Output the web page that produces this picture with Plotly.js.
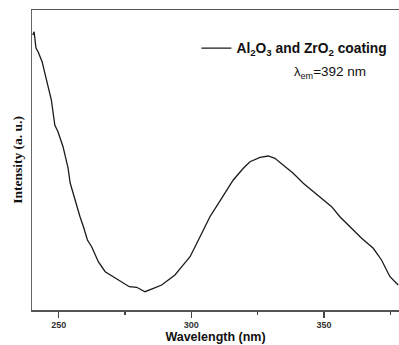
<!DOCTYPE html>
<html>
<head>
<meta charset="utf-8">
<script src="https://cdn.plot.ly/plotly-3.0.1.min.js"></script>
<style>html,body{margin:0;padding:0;background:#fff;}#chart{width:399px;height:345px;}</style>
</head>
<body>
<div id="chart"></div>
<script>
const wavelength = [240.2, 240.7, 241.4, 242.2, 243.7, 245.3, 247.2, 248.5, 249.7, 251.6, 253.5, 254.3, 256.1, 258.0, 259.3, 260.8, 262.4, 264.9, 267.5, 270.6, 273.7, 276.6, 279.4, 282.5, 285.7, 288.8, 291.3, 293.8, 296.4, 299.5, 301.4, 303.3, 307.0, 311.4, 315.8, 319.6, 322.1, 325.9, 329.0, 331.5, 334.7, 338.4, 342.2, 346.0, 349.7, 352.9, 356.0, 359.8, 364.2, 368.6, 371.7, 374.9, 378.0];
const intensity = [275, 278.3, 262, 258.3, 248.3, 230, 210, 185, 178.3, 163.3, 142, 127, 110, 93.3, 83.3, 70, 63.3, 48.3, 38.3, 33.3, 28.3, 23.3, 22.7, 18.3, 21.7, 25, 30, 35, 43.3, 53.3, 63.3, 73.3, 93.3, 111.7, 130, 141.7, 148.3, 152.7, 154, 151.7, 145, 136.7, 126.7, 118.3, 110, 103.3, 93.3, 83.3, 71.7, 61.7, 50, 33.3, 25];
const seriesName = 'Al<sub>2</sub>O<sub>3</sub> and ZrO<sub>2</sub> coating';
const xTickVals = [250, 300, 350];
const xTickText = ['250', '300', '350'];

const trace = {
  x: wavelength, y: intensity, type: 'scatter', mode: 'lines',
  name: seriesName,
  line: {color: '#1a1a1a', width: 1.3}
};

const layout = {
  width: 399, height: 345,
  margin: {l: 32, r: 0, t: 10, b: 35},
  paper_bgcolor: '#fff', plot_bgcolor: '#fff',
  showlegend: true,
  legend: {x: 0.448, y: 0.873, xanchor: 'left', yanchor: 'middle', bgcolor: 'rgba(0,0,0,0)',
           font: {family: 'Liberation Sans, Arial, sans-serif', size: 13.8, color: '#111', weight: 'bold'}},
  xaxis: {
    range: [239.9, 378.3], showgrid: false, zeroline: false,
    showline: true, linecolor: '#555', linewidth: 1.5, mirror: true,
    ticks: 'outside', ticklen: 6, tickwidth: 1.2, tickcolor: '#444',
    tickvals: xTickVals, ticktext: xTickText,
    tickfont: {family: 'Liberation Sans, Arial, sans-serif', size: 9, color: '#333', weight: 'bold'},
    minor: {tickvals: [275, 325, 375], ticks: 'outside', ticklen: 3, tickwidth: 1.2, tickcolor: '#444', showgrid: false},
    title: {text: 'Wavelength (nm)', standoff: 3,
            font: {family: 'Liberation Sans, Arial, sans-serif', size: 12.5, color: '#111', weight: 'bold'}}
  },
  yaxis: {
    range: [0, 300], showgrid: false, zeroline: false, showticklabels: false, ticks: '',
    showline: true, linecolor: '#666', linewidth: 1.5,
    title: {text: 'Intensity (a. u.)', standoff: 5,
            font: {family: 'Liberation Serif, Times New Roman, serif', size: 13.5, color: '#111', weight: 'bold'}}
  },
  annotations: [{
    xref: 'paper', yref: 'paper', x: 0.708, y: 0.79, xanchor: 'left', yanchor: 'middle', showarrow: false,
    text: '<span style="font-size:13px">λ<sub>em</sub></span>=392 nm',
    font: {family: 'Liberation Sans, Arial, sans-serif', size: 13.5, color: '#111'}
  }]
};

Plotly.newPlot('chart', [trace], layout, {displayModeBar: false, staticPlot: true});
</script>
</body>
</html>
